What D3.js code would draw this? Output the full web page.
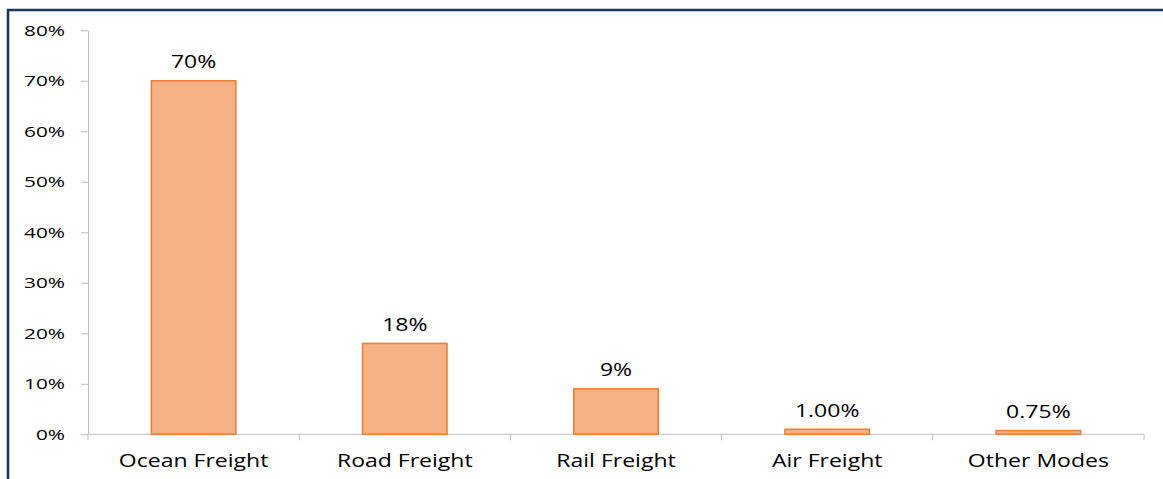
<!DOCTYPE html>
<html><head><meta charset="utf-8">
<script src="https://cdn.jsdelivr.net/npm/d3@7"></script>
<style>html,body{margin:0;padding:0;background:#fff;overflow:hidden}</style>
</head><body>
<svg id="c" width="1163" height="479"></svg>
<script>
const categories = ["Ocean Freight", "Road Freight", "Rail Freight", "Air Freight", "Other Modes"];
const values = [70, 18, 9, 1.0, 0.75];
const valueLabels = ["70%", "18%", "9%", "1.00%", "0.75%"];
const yTicks = [0, 10, 20, 30, 40, 50, 60, 70, 80];

const svg = d3.select("#c");
const W = 1163, H = 479;
const m = {left: 88, right: 19, top: 30.3, bottom: 44.7};
const font = "'Open Sans', sans-serif";
const sx = 1.245, sxTick = 1.36;

// frame (left + top)
svg.append("path")
  .attr("d", `M8,${H} L8,10 L${W},10`)
  .attr("fill", "none").attr("stroke", "#17375e").attr("stroke-width", 2.6);

const x = d3.scaleBand().domain(categories).range([m.left, W - m.right]).paddingInner(0.6).paddingOuter(0.3);
const y = d3.scaleLinear().domain([0, 80]).range([H - m.bottom, m.top]);

// y axis
const ya = svg.append("g").attr("transform", `translate(${m.left},0)`)
  .call(d3.axisLeft(y).tickValues(yTicks).tickFormat(d => d + "%").tickSize(7).tickSizeOuter(0));
ya.select(".domain").attr("stroke", "#bfbfbf");
ya.selectAll(".tick line").attr("stroke", "#bfbfbf");
ya.selectAll(".tick text").attr("x", -23 / sxTick).attr("transform", `scale(${sxTick},1)`)
  .attr("font-family", font).attr("font-size", 15.3).attr("fill", "#000");

// x axis line & boundary ticks
const x0 = m.left, x1 = W - m.right;
svg.append("line").attr("x1", x0).attr("x2", x1).attr("y1", y(0)).attr("y2", y(0)).attr("stroke", "#bfbfbf");
const step = (x1 - x0) / categories.length;
const bounds = d3.range(categories.length + 1).map(i => x0 + i * step);
svg.selectAll(".bt").data(bounds).join("line")
  .attr("x1", d => d).attr("x2", d => d).attr("y1", y(0)).attr("y2", y(0) + 6).attr("stroke", "#bfbfbf");

// bars
svg.selectAll(".bar").data(categories).join("rect")
  .attr("x", d => x(d)).attr("width", x.bandwidth())
  .attr("y", (d, i) => y(values[i])).attr("height", (d, i) => y(0) - y(values[i]))
  .attr("fill", "#f4b183").attr("stroke", "#ed7d31").attr("stroke-width", 1.5);

// value labels
svg.selectAll(".vl").data(categories).join("text")
  .attr("transform", (d, i) => `translate(${x(d) + x.bandwidth() / 2},${y(values[i]) - 12.5}) scale(${sx},1)`)
  .attr("text-anchor", "middle").attr("font-family", font).attr("font-size", 18.5).attr("fill", "#000")
  .text((d, i) => valueLabels[i]);

// category labels
svg.selectAll(".cl").data(categories).join("text")
  .attr("transform", d => `translate(${x(d) + x.bandwidth() / 2},${H - 12.5}) scale(${sx},1)`)
  .attr("text-anchor", "middle").attr("font-family", font).attr("font-size", 18.5).attr("fill", "#000")
  .text(d => d);
</script>
</body></html>
